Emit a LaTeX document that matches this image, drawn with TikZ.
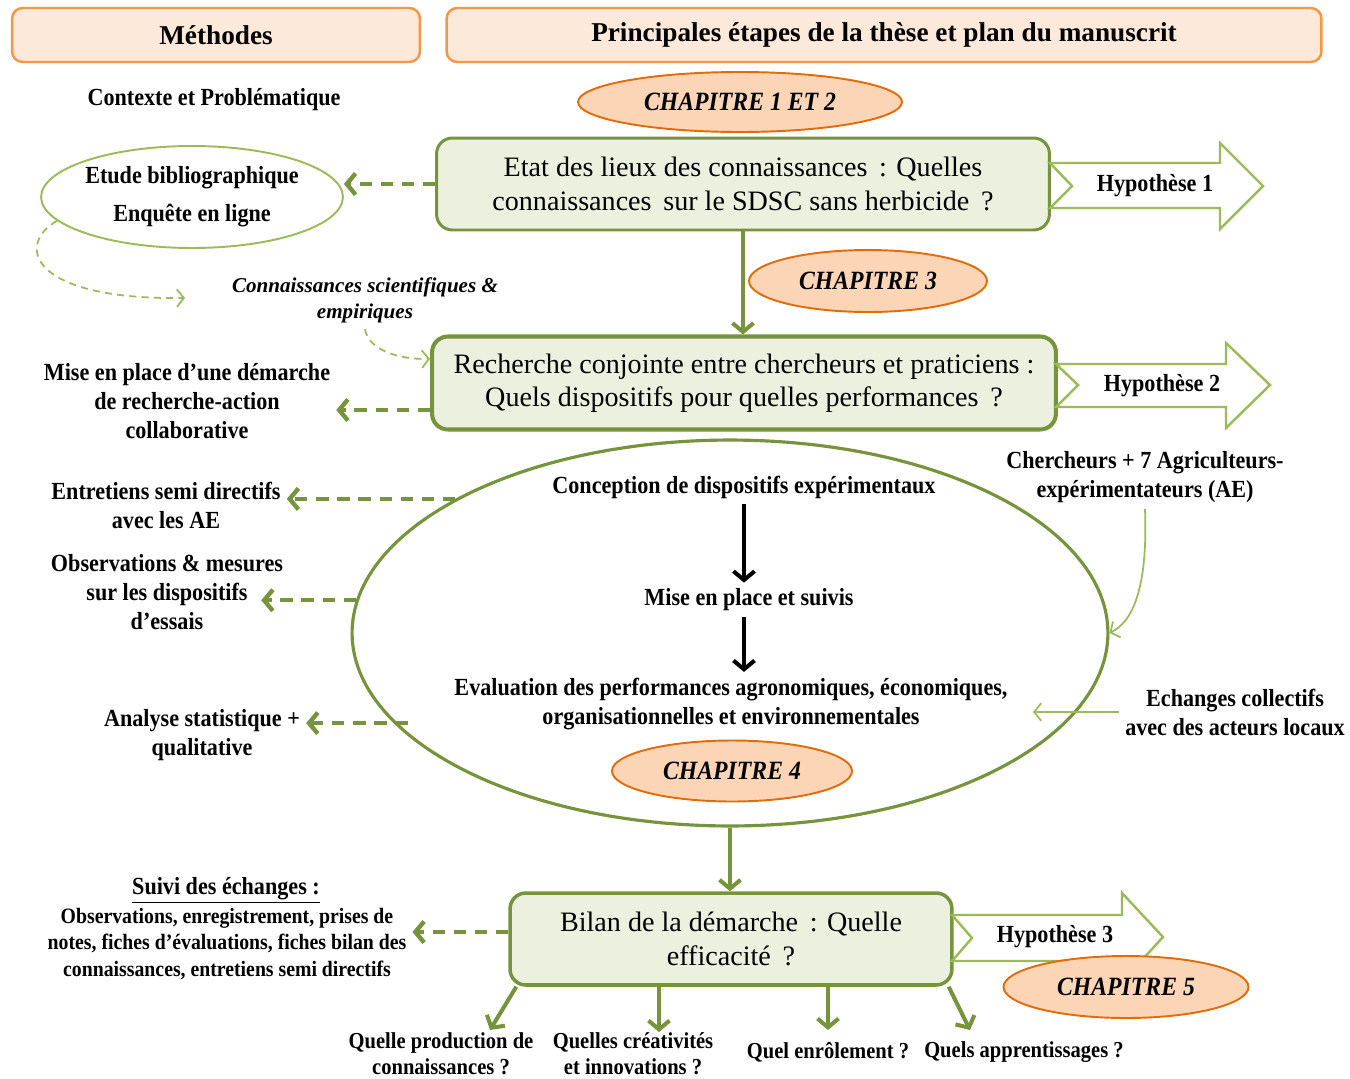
\documentclass[tikz,border=0pt]{standalone}
\usepackage{fontspec}
\setmainfont{Liberation Serif}
\newfontfamily\condfont[FakeStretch=0.9]{Liberation Serif}
\usetikzlibrary{shapes.geometric,arrows.meta,calc}

\definecolor{darkgreen}{HTML}{77933C}
\definecolor{lightgreen}{HTML}{9BBB59}
\definecolor{boxfill}{HTML}{EBF1DE}
\definecolor{headfill}{HTML}{FDE9D9}
\definecolor{headline}{HTML}{F79646}
\definecolor{chapfill}{HTML}{FBD5B5}
\definecolor{chapline}{HTML}{E36C09}

\tikzset{
  header/.style={draw=headline, fill=headfill, line width=1.4pt, rounded corners=6pt,
    minimum height=1.08cm, font=\fontsize{15.5}{18}\selectfont\bfseries},
  chap/.style={ellipse, draw=chapline, fill=chapfill, line width=1.1pt, inner sep=0pt,
    font=\condfont\fontsize{15}{17}\selectfont\bfseries\itshape},
  stage/.style={draw=darkgreen, fill=boxfill, line width=1.7pt, rounded corners=9pt,
    align=center, font=\fontsize{16}{19}\selectfont},
  methtext/.style={align=center, font=\condfont\fontsize{14}{16.5}\selectfont\bfseries},
  question/.style={methtext, font=\condfont\fontsize{13}{14.8}\selectfont\bfseries},
  hyp/.style={draw=lightgreen, fill=white, line width=1.4pt, line join=miter},
  dasharr/.style={draw=darkgreen, line width=2.5pt, dash pattern=on 7pt off 5pt,
    -{Straight Barb[length=5pt,width=12pt,line width=2.5pt]}},
  solidarr/.style={draw=darkgreen, line width=2.3pt,
    -{Straight Barb[length=5pt,width=12pt]}},
  blackarr/.style={draw=black, line width=2.3pt,
    -{Straight Barb[length=5pt,width=12pt]}},
  thinarr/.style={draw=lightgreen, line width=1pt,
    -{Straight Barb[length=4pt,width=10pt]}},
  thindash/.style={thinarr, dash pattern=on 4pt off 3pt}
}

\begin{document}
\begin{tikzpicture}[x=0.02cm, y=-0.02cm]
  \useasboundingbox (0,0) rectangle (1350,1079);

  % headers
  \node[header, minimum width=8.16cm] (methodes) at (216,35) {Méthodes};
  \node[header, minimum width=17.5cm] (etapes) at (884,35)
    {Principales étapes de la thèse et plan du manuscrit};

  % main stages
  \node[chap, minimum width=6.48cm, minimum height=1.2cm] (ch12) at (740,102) {CHAPITRE 1 ET 2};
  \node[stage, minimum width=12.26cm, minimum height=1.84cm] (etat) at (743,184)
    {Etat des lieux des connaissances\, : Quelles\\connaissances\, sur le SDSC sans herbicide\, ?};
  \node[chap, minimum width=4.76cm, minimum height=1.24cm] (ch3) at (868,281) {CHAPITRE 3};
  \node[stage, line width=2.3pt, minimum width=12.48cm, minimum height=1.86cm] (recherche) at (744,383)
    {Recherche conjointe entre chercheurs et praticiens :\\Quels dispositifs pour quelles performances\, ?};
  \node[ellipse, draw=darkgreen, line width=1.8pt, inner sep=0pt,
    minimum width=15.12cm, minimum height=7.72cm] (dispositifs) at (730,633) {};
  \node[chap, minimum width=4.8cm, minimum height=1.22cm] (ch4) at (732,771) {CHAPITRE 4};
  \node[stage, line width=2pt, minimum width=8.84cm, minimum height=1.84cm] (bilan) at (731,939)
    {Bilan de la démarche\, : Quelle\\efficacité\, ?};

  % hypotheses
  \draw[hyp] (1050,163) -- (1220,163) -- (1220,143) -- (1263,186) -- (1220,229)
    -- (1220,208) -- (1050,208) -- (1072,186) -- cycle;
  \draw[hyp] (1056,364) -- (1226,364) -- (1226,343) -- (1270,385) -- (1226,428)
    -- (1226,407) -- (1056,407) -- (1078,385) -- cycle;
  \draw[hyp] (952,915) -- (1122,915) -- (1122,893) -- (1163,937) -- (1122,982)
    -- (1122,961) -- (952,961) -- (972,938) -- cycle;
  \node[methtext] (hyp1) at (1155,186) {Hypothèse 1};
  \node[methtext] (hyp2) at (1162,386) {Hypothèse 2};
  \node[methtext] (hyp3) at (1055,937) {Hypothèse 3};
  \node[chap, minimum width=4.9cm, minimum height=1.24cm] (ch5) at (1126,987) {CHAPITRE 5};

  % inside the cycle
  \node[methtext] (conception) at (744,487) {Conception de dispositifs expérimentaux};
  \node[methtext] (suivis) at (749,600) {Mise en place et suivis};
  \node[methtext] (evaluation) at (731,704)
    {Evaluation des performances agronomiques, économiques,\\organisationnelles et environnementales};
  \draw[blackarr] (conception.south) -- (suivis.north -| conception.south);
  \draw[blackarr] (suivis.south -| conception.south) -- (evaluation.north -| conception.south);

  % methods
  \node[methtext] (contexte) at (214,100) {Contexte et Problématique};
  \node[ellipse, draw=lightgreen, line width=1.1pt, inner sep=0pt, align=center,
    minimum width=5.84cm, minimum height=2.04cm,
    font=\condfont\fontsize{14}{16.5}\selectfont\bfseries] (etude) at (192,197)
    {Etude bibliographique\\[5pt]Enquête en ligne};
  \node[align=center, font=\fontsize{12}{15}\selectfont\bfseries\itshape] (savoirs) at (365,300)
    {Connaissances scientifiques \&\\empiriques};
  \node[methtext] (demarche) at (187,401)
    {Mise en place d’une démarche\\de recherche-action\\collaborative};
  \node[methtext] (entretiens) at (166,505) {Entretiens semi directifs\\avec les AE};
  \node[methtext] (observations) at (167,592)
    {Observations \& mesures\\sur les dispositifs\\d’essais};
  \node[methtext] (analyse) at (202,735) {Analyse statistique +\\qualitative};
  \node[methtext] (suivititre) at (226,890) {\underline{Suivi des échanges :}};
  \node[methtext, font=\condfont\fontsize{12.5}{15}\selectfont\bfseries] (suivi) at (227,944)
    {Observations, enregistrement, prises de\\notes, fiches d’évaluations, fiches bilan des\\connaissances, entretiens semi directifs};

  % actors
  \node[methtext] (chercheurs) at (1145,477) {Chercheurs + 7 Agriculteurs-\\expérimentateurs (AE)};
  \node[methtext] (echanges) at (1235,712) {Echanges collectifs\\avec des acteurs locaux};

  % questions
  \node[question] (q1) at (441,1054) {Quelle production de\\connaissances ?};
  \node[question] (q2) at (633,1054) {Quelles créativités\\et innovations ?};
  \node[question] (q3) at (828,1052) {Quel enrôlement ?};
  \node[question] (q4) at (1024,1052) {Quels apprentissages ?};

  \coordinate (b2l) at ($(recherche.west)+(0,27)$);
  \coordinate (b3l) at ($(bilan.west)+(0,-7)$);
  \coordinate (savoirsend) at (185,298);
  \coordinate (echend) at (1033,712);
  \coordinate (a1) at (490,1030);
  \coordinate (a2) at (659,1032);
  \coordinate (a3) at (828,1030);
  \coordinate (a4) at (970,1030);

  % connectors
  \draw[solidarr] (etat.south) -- (recherche.north -| etat.south);
  \draw[solidarr] (dispositifs.south) -- (bilan.north -| dispositifs.south);
  \draw[dasharr] (etat.west) -- (etat.west -| etude.east);
  \draw[dasharr] (b2l) -- (b2l -| demarche.east);
  \draw[dasharr] (dispositifs.154) -- (dispositifs.154 -| entretiens.east);
  \draw[dasharr] (dispositifs.175) -- ($(dispositifs.175 -| observations.east)+(-28,0)$);
  \draw[dasharr] ($(dispositifs.195)+(14,0)$) -- (dispositifs.195 -| analyse.east);
  \draw[dasharr] (b3l) -- (b3l -| suivi.east);
  \draw[thindash] (etude.190) .. controls (15,245) and (30,300) .. (savoirsend);
  \draw[thindash] (savoirs.south) .. controls (368,350) and (400,360) .. ($(recherche.north west)!0.25!(recherche.south west)$);
  \draw[thinarr] (chercheurs.south) .. controls (1148,590) and (1132,622) .. (dispositifs.east);
  \draw[thinarr] (echanges.west) -- (echend);
  \draw[solidarr] ($(bilan.south west)+(8,0)$) -- (a1);
  \draw[solidarr] (bilan.south -| a2) -- (a2);
  \draw[solidarr] (bilan.south -| a3) -- (a3);
  \draw[solidarr] ($(bilan.south east)+(-5,0)$) -- (a4);
\end{tikzpicture}
\end{document}
